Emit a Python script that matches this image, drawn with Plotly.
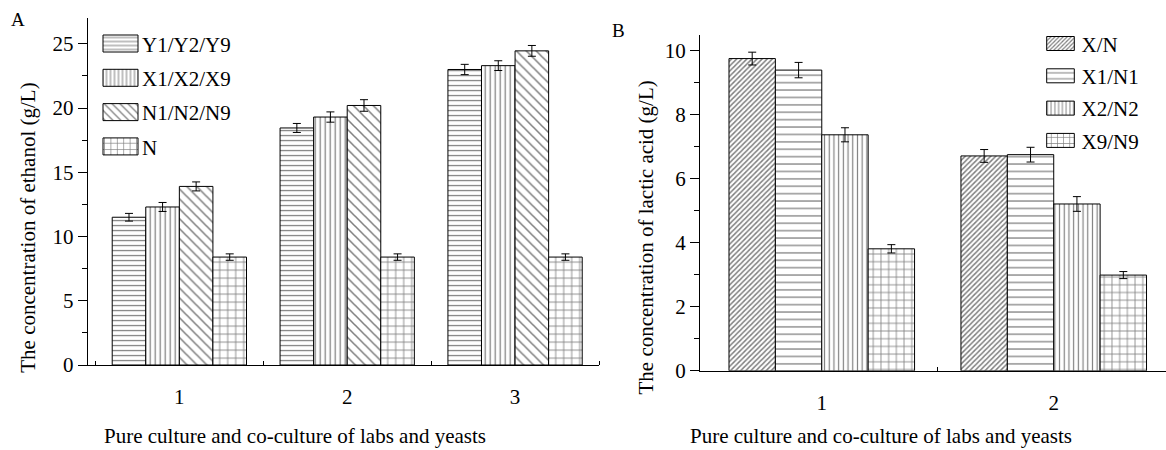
import plotly.graph_objects as go

# ---------------- data ----------------
groups_a = [1, 2, 3]
ethanol_y = [11.5, 18.45, 23.0]
ethanol_y_err = [0.3, 0.35, 0.4]
ethanol_x = [12.3, 19.3, 23.3]
ethanol_x_err = [0.35, 0.4, 0.38]
ethanol_n9 = [13.9, 20.2, 24.45]
ethanol_n9_err = [0.35, 0.45, 0.42]
ethanol_n = [8.4, 8.4, 8.4]
ethanol_n_err = [0.25, 0.25, 0.25]
names_a = ["Y1/Y2/Y9", "X1/X2/X9", "N1/N2/N9", "N"]

groups_b = [1, 2]
lactic_xn = [9.75, 6.71]
lactic_xn_err = [0.2, 0.2]
lactic_x1n1 = [9.39, 6.75]
lactic_x1n1_err = [0.24, 0.23]
lactic_x2n2 = [7.37, 5.21]
lactic_x2n2_err = [0.22, 0.23]
lactic_x9n9 = [3.81, 2.99]
lactic_x9n9_err = [0.13, 0.11]
names_b = ["X/N", "X1/N1", "X2/N2", "X9/N9"]

FONT = "Liberation Serif"
FS = 21
W, H = 1166, 450

def px(x):
    return x / W

def py(y):
    return 1 - y / H

fig = go.Figure()

def add_bar(x, y, err, name, shape, size, solidity, xa, ya, legend):
    fig.add_trace(go.Bar(
        x=x, y=y, name=name, xaxis=xa, yaxis=ya, legend=legend,
        legendgroup=legend + name,
        marker=dict(color="white", line=dict(color="black", width=1),
                    pattern=dict(shape=shape, fgcolor="black", bgcolor="white",
                                 size=size, solidity=solidity, fillmode="overlay")),
        error_y=dict(type="data", array=err, visible=True, color="black",
                     thickness=1, width=4),
    ))

add_bar(groups_a, ethanol_y, ethanol_y_err, names_a[0], "-", 5, 0.25, "x", "y", "legend")
add_bar(groups_a, ethanol_x, ethanol_x_err, names_a[1], "|", 5, 0.25, "x", "y", "legend")
add_bar(groups_a, ethanol_n9, ethanol_n9_err, names_a[2], "\\", 7, 0.22, "x", "y", "legend")
add_bar(groups_a, ethanol_n, ethanol_n_err, names_a[3], "+", 8, 0.2, "x", "y", "legend")

add_bar(groups_b, lactic_xn, lactic_xn_err, names_b[0], "/", 3.6, 0.42, "x2", "y2", "legend2")
add_bar(groups_b, lactic_x1n1, lactic_x1n1_err, names_b[1], "-", 7.4, 0.17, "x2", "y2", "legend2")
add_bar(groups_b, lactic_x2n2, lactic_x2n2_err, names_b[2], "|", 4.7, 0.25, "x2", "y2", "legend2")
add_bar(groups_b, lactic_x9n9, lactic_x9n9_err, names_b[3], "+", 7.7, 0.2, "x2", "y2", "legend2")

tickfont = dict(family=FONT, size=FS, color="black")

xcommon = dict(showline=True, linecolor="black", linewidth=1, showgrid=False,
               zeroline=False, ticks="", tickfont=tickfont, ticklabelstandoff=13,
               fixedrange=True)
ycommon = dict(showline=True, linecolor="black", linewidth=1, showgrid=False,
               zeroline=False, ticks="outside", ticklen=9, tickwidth=1,
               tickcolor="black", tickfont=tickfont)

def ann(text, x, y, angle=0, size=FS, yanchor="middle", yshift=0):
    return dict(text=text, x=px(x), y=py(y), xref="paper", yref="paper",
                xanchor="center", yanchor=yanchor, showarrow=False, yshift=yshift,
                textangle=angle, font=dict(family=FONT, size=size, color="black"))

fig.update_layout(
    width=W, height=H,
    margin=dict(l=0, r=0, t=0, b=0),
    paper_bgcolor="white", plot_bgcolor="white",
    barmode="group", bargap=0.2, bargroupgap=0,
    font=dict(family=FONT, size=FS, color="black"),
    xaxis=dict(domain=[px(87.7), px(599)], range=[0.454, 3.5], anchor="y",
               tickvals=groups_a, ticktext=[str(g) for g in groups_a],
               minor=dict(tickmode="array", tickvals=[0.5, 1.5, 2.5, 3.5],
                          ticks="inside", ticklen=4, tickcolor="black"),
               **xcommon),
    yaxis=dict(domain=[py(375), py(18.6)], range=[0, 27], anchor="x",
               tickvals=[0, 5, 10, 15, 20, 25],
               minor=dict(dtick=2.5, ticks="outside", ticklen=5, tickcolor="black"),
               **ycommon),
    xaxis2=dict(domain=[px(700), 1.0], range=[0.475, 2.484], anchor="y2",
                tickvals=groups_b, ticktext=[str(g) for g in groups_b],
                minor=dict(tickmode="array", tickvals=[1.5, 2.5],
                           ticks="inside", ticklen=4, tickcolor="black"),
                **xcommon),
    yaxis2=dict(domain=[py(381), py(35.5)], range=[0, 10.5], anchor="x2",
                tickvals=[0, 2, 4, 6, 8, 10],
                minor=dict(dtick=1, ticks="outside", ticklen=5, tickcolor="black"),
                **ycommon),
    legend=dict(x=px(99), y=py(24), xanchor="left", yanchor="top",
                bgcolor="rgba(0,0,0,0)", borderwidth=0, itemwidth=33,
                tracegroupgap=4, font=dict(family=FONT, size=FS, color="black")),
    legend2=dict(x=px(1039.5), y=py(24), xanchor="left", yanchor="top",
                 bgcolor="rgba(0,0,0,0)", borderwidth=0, itemwidth=32,
                 tracegroupgap=2, font=dict(family=FONT, size=FS, color="black")),
    annotations=[
        ann("A", 18, 20, size=19),
        ann("B", 618.5, 31, size=19),
        ann("The concentration of ethanol (g/L)", 28, 234, angle=-90),
        ann("The concentration of lactic acid (g/L)", 646, 244, angle=-90),
        ann("Pure culture and co-culture of labs and yeasts", 295, 450,
            yanchor="bottom", yshift=-12),
        ann("Pure culture and co-culture of labs and yeasts", 881, 450,
            yanchor="bottom", yshift=-12),
    ],
)

post = """
var gd = document.getElementById('{plot_id}');
function sw(cls, hw, hh) {
  gd.querySelectorAll('g.' + cls + ' g.legendpoints path').forEach(function (p) {
    p.setAttribute('d', 'M' + hw + ',' + hh + 'H-' + hw + 'V-' + hh + 'H' + hw + 'Z');
  });
}
sw('legend', 17.5, 8.5);
sw('legend2', 13.8, 7);
"""

fig.write_html("out.html", post_script=post, config={"displayModeBar": False})
